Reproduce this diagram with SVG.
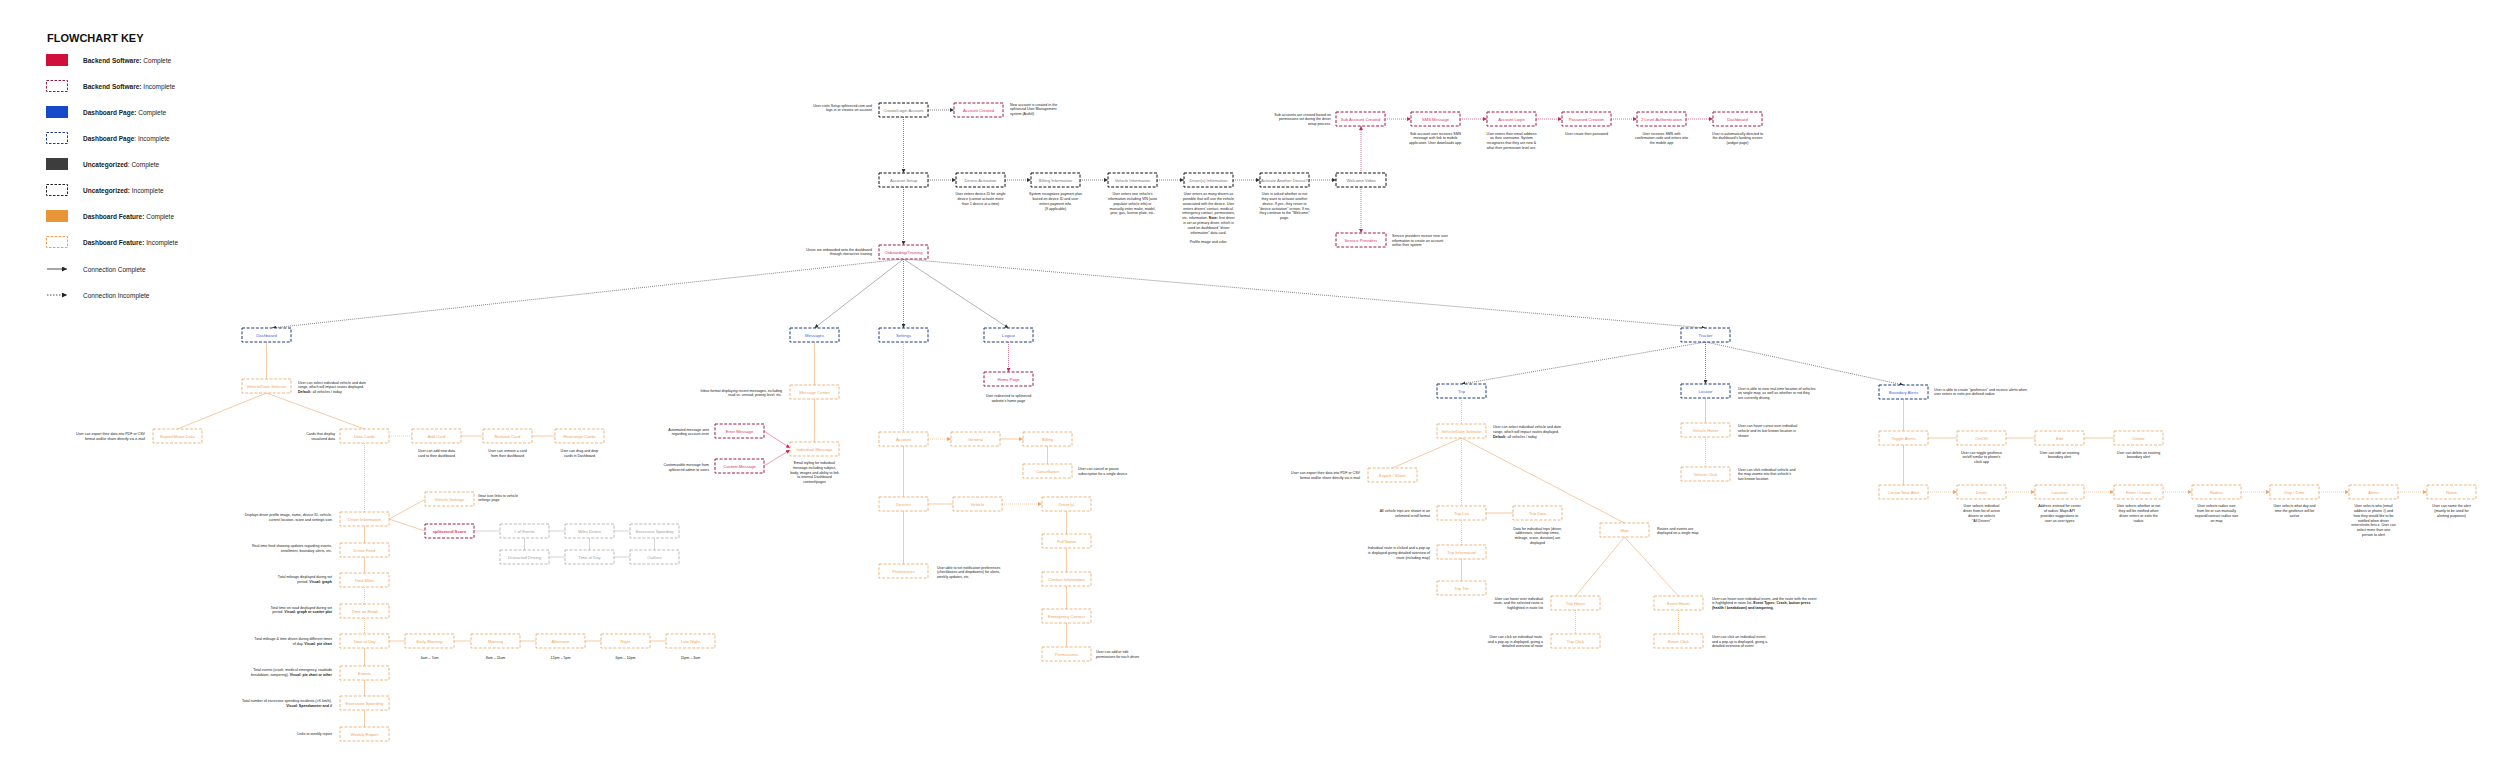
<svg xmlns="http://www.w3.org/2000/svg" width="2500" height="782" viewBox="0 0 2500 782">
<style>
text{font-family:"Liberation Sans",Arial,sans-serif}
.nd rect{fill:#fff;stroke-width:1;stroke-dasharray:3 1.6}
.nd text{font-size:4.2px;text-anchor:middle}
.r rect{stroke:#9a1d4a}.r text{fill:#d8366a}
.b rect{stroke:#1f3b7a}.b text{fill:#3f66d6}
.k rect{stroke:#111}.k text{fill:#777}
.o rect{stroke:#e8a461;stroke-width:0.8}.o text{fill:#f0a55a}
.g rect{stroke:#a8a8a8;stroke-width:0.8}.g text{fill:#a0a0a0}
.d{font-size:3.6px;fill:#222}
.m{text-anchor:middle}.e{text-anchor:end}
.bd{font-weight:bold}
.key{font-size:6.5px;fill:#222}
#conn line,#conn path{fill:none}
.ck{stroke:#333;stroke-width:0.6;stroke-dasharray:1 1}
.cks{stroke:#666;stroke-width:0.5}
.co{stroke:#f0b47c;stroke-width:0.7}
.cod{stroke:#f0b47c;stroke-width:0.7;stroke-dasharray:1 1}
.cr{stroke:#b02457;stroke-width:0.6;stroke-dasharray:1 1}
.crs{stroke:#d8366a;stroke-width:0.5}
.cg{stroke:#bbb;stroke-width:0.6}
</style>
<defs>
<marker id="ak" viewBox="0 0 6 6" refX="6" refY="3" markerWidth="4" markerHeight="4" orient="auto" markerUnits="userSpaceOnUse"><path d="M0,0L6,3L0,6z" fill="#333"/></marker>
<marker id="ao" viewBox="0 0 6 6" refX="6" refY="3" markerWidth="4" markerHeight="4" orient="auto" markerUnits="userSpaceOnUse"><path d="M0,0L6,3L0,6z" fill="#eea56a"/></marker>
<marker id="ar" viewBox="0 0 6 6" refX="6" refY="3" markerWidth="4" markerHeight="4" orient="auto" markerUnits="userSpaceOnUse"><path d="M0,0L6,3L0,6z" fill="#c02a5c"/></marker>
<marker id="akey" viewBox="0 0 6 6" refX="6" refY="3" markerWidth="5" markerHeight="5" orient="auto" markerUnits="userSpaceOnUse"><path d="M0,0L6,3L0,6z" fill="#222"/></marker>
</defs>
<rect width="2500" height="782" fill="#fff"/>

<g id="key">
<text x="47" y="42" style="font-size:11px;font-weight:bold" fill="#111">FLOWCHART KEY</text>
<rect x="46" y="54" width="22" height="12" fill="#d0103a"/>
<text class="key" x="83" y="62.5"><tspan class="bd">Backend Software:</tspan> Complete</text>
<rect x="46.5" y="80.5" width="21" height="11" fill="none" stroke="#8e1e48" stroke-dasharray="2.5 1.5"/>
<text class="key" x="83" y="88.5"><tspan class="bd">Backend Software:</tspan> Incomplete</text>
<rect x="46" y="106" width="22" height="12" fill="#1549c9"/>
<text class="key" x="83" y="114.5"><tspan class="bd">Dashboard Page:</tspan> Complete</text>
<rect x="46.5" y="132.5" width="21" height="11" fill="none" stroke="#1f3d80" stroke-dasharray="2.5 1.5"/>
<text class="key" x="83" y="140.5"><tspan class="bd">Dashboard Page</tspan>: Incomplete</text>
<rect x="46" y="158" width="22" height="12" fill="#3d3d3d"/>
<text class="key" x="83" y="166.5"><tspan class="bd">Uncategorized</tspan>: Complete</text>
<rect x="46.5" y="184.5" width="21" height="11" fill="none" stroke="#222" stroke-dasharray="2.5 1.5"/>
<text class="key" x="83" y="192.5"><tspan class="bd">Uncategorized:</tspan> Incomplete</text>
<rect x="46" y="210" width="22" height="12" fill="#e8953a"/>
<text class="key" x="83" y="218.5"><tspan class="bd">Dashboard Feature:</tspan> Complete</text>
<rect x="46.5" y="236.5" width="21" height="11" fill="none" stroke="#e6a05e" stroke-dasharray="2.5 1.5"/>
<text class="key" x="83" y="244.5"><tspan class="bd">Dashboard Feature:</tspan> Incomplete</text>
<line x1="47" y1="269" x2="67" y2="269" stroke="#222" stroke-width="0.8" marker-end="url(#akey)"/>
<text class="key" x="83" y="271.5">Connection Complete</text>
<line x1="47" y1="295" x2="67" y2="295" stroke="#222" stroke-width="0.8" stroke-dasharray="1.5 1.5" marker-end="url(#akey)"/>
<text class="key" x="83" y="297.5">Connection Incomplete</text>
</g>

<g id="conn">
<line class="ck" x1="928" y1="110" x2="954" y2="110" marker-end="url(#ak)"/>
<line class="ck" x1="903.5" y1="117" x2="903.5" y2="173" marker-end="url(#ak)"/>
<line class="ck" x1="928" y1="180" x2="956" y2="180" marker-end="url(#ak)"/>
<line class="ck" x1="1005" y1="180" x2="1031" y2="180" marker-end="url(#ak)"/>
<line class="ck" x1="1080" y1="180" x2="1108" y2="180" marker-end="url(#ak)"/>
<line class="ck" x1="1157" y1="180" x2="1184" y2="180" marker-end="url(#ak)"/>
<line class="ck" x1="1233" y1="180" x2="1260" y2="180" marker-end="url(#ak)"/>
<line class="ck" x1="1309" y1="180" x2="1336" y2="180" marker-end="url(#ak)"/>
<line class="cr" x1="1361" y1="173" x2="1361" y2="126" marker-end="url(#ar)"/>
<line class="cr" x1="1361" y1="187" x2="1361" y2="233" marker-end="url(#ar)"/>
<line class="cr" x1="1385" y1="119" x2="1411" y2="119" marker-end="url(#ar)"/>
<line class="cr" x1="1460" y1="119" x2="1487" y2="119" marker-end="url(#ar)"/>
<line class="cr" x1="1536" y1="119" x2="1562" y2="119" marker-end="url(#ar)"/>
<line class="cr" x1="1611" y1="119" x2="1637" y2="119" marker-end="url(#ar)"/>
<line class="cr" x1="1686" y1="119" x2="1713" y2="119" marker-end="url(#ar)"/>
<line class="ck" x1="903.5" y1="187" x2="903.5" y2="245" marker-end="url(#ak)"/>
<line class="ck" x1="903.5" y1="259" x2="272" y2="328" marker-end="url(#ak)"/>
<line class="cks" x1="903.5" y1="259" x2="814.5" y2="328" marker-end="url(#ak)"/>
<line class="ck" x1="903.5" y1="259" x2="903.5" y2="328" marker-end="url(#ak)"/>
<line class="cks" x1="903.5" y1="259" x2="1008.5" y2="328" marker-end="url(#ak)"/>
<line class="ck" x1="903.5" y1="259" x2="1705.5" y2="328" marker-end="url(#ak)"/>
<line class="co" x1="266.5" y1="342" x2="266.5" y2="379"/>
<line class="co" x1="266.5" y1="393" x2="177.5" y2="429"/>
<line class="co" x1="266.5" y1="393" x2="364.5" y2="429"/>
<line class="cod" x1="389" y1="436" x2="412" y2="436"/>
<line class="co" x1="461" y1="436" x2="483" y2="436"/>
<line class="co" x1="532" y1="436" x2="555" y2="436"/>
<line class="cod" x1="364.5" y1="443" x2="364.5" y2="512"/>
<line class="co" x1="389" y1="519" x2="425" y2="499.5"/>
<line class="co" x1="389" y1="519" x2="425" y2="531"/>
<line class="cg" x1="474" y1="531" x2="500" y2="531"/>
<line class="cg" x1="549" y1="531" x2="565" y2="531"/>
<line class="cg" x1="614" y1="531" x2="630" y2="531"/>
<line class="cg" x1="524.5" y1="538" x2="524.5" y2="550"/>
<line class="cg" x1="589.5" y1="538" x2="589.5" y2="550"/>
<line class="cg" x1="654.5" y1="538" x2="654.5" y2="550"/>
<line class="cg" x1="549" y1="557" x2="565" y2="557"/>
<line class="cg" x1="614" y1="557" x2="630" y2="557"/>
<line class="co" x1="364.5" y1="526" x2="364.5" y2="543"/>
<line class="co" x1="364.5" y1="557" x2="364.5" y2="573"/>
<line class="cod" x1="364.5" y1="587" x2="364.5" y2="604"/>
<line class="cod" x1="364.5" y1="618" x2="364.5" y2="634"/>
<line class="co" x1="364.5" y1="648" x2="364.5" y2="666"/>
<line class="co" x1="364.5" y1="680" x2="364.5" y2="696"/>
<line class="co" x1="364.5" y1="710" x2="364.5" y2="727"/>
<line class="co" x1="389" y1="641" x2="405" y2="641"/>
<line class="co" x1="454" y1="641" x2="471" y2="641"/>
<line class="co" x1="520" y1="641" x2="536" y2="641"/>
<line class="co" x1="585" y1="641" x2="601" y2="641"/>
<line class="co" x1="650" y1="641" x2="666" y2="641"/>
<line class="co" x1="814.5" y1="342" x2="814.5" y2="385"/>
<line class="co" x1="814.5" y1="399" x2="814.5" y2="442"/>
<line class="crs" x1="764" y1="431" x2="790" y2="448" marker-end="url(#ar)"/>
<line class="crs" x1="764" y1="466" x2="790" y2="450" marker-end="url(#ar)"/>
<line class="cod" x1="903.5" y1="342" x2="903.5" y2="432"/>
<line class="cod" x1="928" y1="439" x2="951" y2="439" marker-end="url(#ao)"/>
<line class="co" x1="1000" y1="439" x2="1023" y2="439" marker-end="url(#ao)"/>
<line class="co" x1="1047.5" y1="446" x2="1047.5" y2="464"/>
<line class="co" x1="903.5" y1="446" x2="903.5" y2="497"/>
<line class="co" x1="928" y1="504" x2="953" y2="504"/>
<line class="cod" x1="1002" y1="504" x2="1042" y2="504" marker-end="url(#ao)"/>
<line class="co" x1="903.5" y1="511" x2="903.5" y2="564"/>
<line class="co" x1="1066.5" y1="511" x2="1066.5" y2="534"/>
<line class="co" x1="1066.5" y1="548" x2="1066.5" y2="572"/>
<line class="co" x1="1066.5" y1="586" x2="1066.5" y2="609"/>
<line class="co" x1="1066.5" y1="623" x2="1066.5" y2="647"/>
<line class="cr" x1="1008.5" y1="342" x2="1008.5" y2="372" marker-end="url(#ar)"/>
<line class="ck" x1="1705.5" y1="342" x2="1461.5" y2="384" marker-end="url(#ak)"/>
<line class="ck" x1="1705.5" y1="342" x2="1705.5" y2="384" marker-end="url(#ak)"/>
<line class="ck" x1="1705.5" y1="342" x2="1903.5" y2="385" marker-end="url(#ak)"/>
<line class="cod" x1="1461.5" y1="398" x2="1461.5" y2="424"/>
<line class="co" x1="1461.5" y1="438" x2="1392.5" y2="468"/>
<line class="cod" x1="1461.5" y1="438" x2="1461.5" y2="506"/>
<line class="co" x1="1461.5" y1="438" x2="1624.5" y2="523"/>
<line class="co" x1="1486" y1="513" x2="1513" y2="513"/>
<line class="cod" x1="1461.5" y1="520" x2="1461.5" y2="545"/>
<line class="co" x1="1461.5" y1="559" x2="1461.5" y2="581"/>
<line class="co" x1="1624.5" y1="537" x2="1575.5" y2="596"/>
<line class="co" x1="1624.5" y1="537" x2="1678.5" y2="596"/>
<line class="cod" x1="1575.5" y1="610" x2="1575.5" y2="634"/>
<line class="cod" x1="1678.5" y1="610" x2="1678.5" y2="634"/>
<line class="co" x1="1705.5" y1="398" x2="1705.5" y2="423"/>
<line class="cod" x1="1705.5" y1="437" x2="1705.5" y2="467"/>
<line class="co" x1="1903.5" y1="399" x2="1903.5" y2="431"/>
<line class="co" x1="1903.5" y1="445" x2="1903.5" y2="485"/>
<line class="co" x1="1928" y1="438" x2="1957" y2="438"/>
<line class="co" x1="2006" y1="438" x2="2035" y2="438"/>
<line class="co" x1="2084" y1="438" x2="2114" y2="438"/>
<line class="cod" x1="1928" y1="492" x2="1957" y2="492" marker-end="url(#ao)"/>
<line class="cod" x1="2006" y1="492" x2="2035" y2="492" marker-end="url(#ao)"/>
<line class="cod" x1="2084" y1="492" x2="2114" y2="492" marker-end="url(#ao)"/>
<line class="cod" x1="2163" y1="492" x2="2192" y2="492" marker-end="url(#ao)"/>
<line class="cod" x1="2241" y1="492" x2="2270" y2="492" marker-end="url(#ao)"/>
<line class="cod" x1="2319" y1="492" x2="2349" y2="492" marker-end="url(#ao)"/>
<line class="cod" x1="2398" y1="492" x2="2427" y2="492" marker-end="url(#ao)"/>
</g>

<g id="n-create" class="nd k"><rect x="879" y="103" width="49" height="14"/><text x="903.5" y="111.5">Create/Login Account</text></g>
<g id="n-acctcreated" class="nd r"><rect x="954" y="103" width="49" height="14"/><text x="978.5" y="111.5">Account Created</text></g>
<g id="n-acctsetup" class="nd k"><rect x="879" y="173" width="49" height="14"/><text x="903.5" y="181.5">Account Setup</text></g>
<g id="n-devact" class="nd k"><rect x="956" y="173" width="49" height="14"/><text x="980.5" y="181.5">Device Activation</text></g>
<g id="n-billinfo" class="nd k"><rect x="1031" y="173" width="49" height="14"/><text x="1055.5" y="181.5">Billing Information</text></g>
<g id="n-vehinfo" class="nd k"><rect x="1108" y="173" width="49" height="14"/><text x="1132.5" y="181.5">Vehicle Information</text></g>
<g id="n-drvinfo" class="nd k"><rect x="1184" y="173" width="49" height="14"/><text x="1208.5" y="181.5">Driver(s) Information</text></g>
<g id="n-activate" class="nd k"><rect x="1260" y="173" width="49" height="14"/><text x="1284.5" y="181.5">Activate Another Device?</text></g>
<g id="n-welcome" class="nd k"><rect x="1336" y="173" width="50" height="14"/><text x="1361" y="181.5">Welcome Video</text></g>
<g id="n-subacct" class="nd r"><rect x="1336" y="112" width="49" height="14"/><text x="1360.5" y="120.5">Sub Account Created</text></g>
<g id="n-sms" class="nd r"><rect x="1411" y="112" width="49" height="14"/><text x="1435.5" y="120.5">SMS Message</text></g>
<g id="n-login" class="nd r"><rect x="1487" y="112" width="49" height="14"/><text x="1511.5" y="120.5">Account Login</text></g>
<g id="n-pwd" class="nd r"><rect x="1562" y="112" width="49" height="14"/><text x="1586.5" y="120.5">Password Creation</text></g>
<g id="n-2fa" class="nd r"><rect x="1637" y="112" width="49" height="14"/><text x="1661.5" y="120.5">2 Level Authentication</text></g>
<g id="n-dash-top" class="nd r"><rect x="1713" y="112" width="49" height="14"/><text x="1737.5" y="120.5">Dashboard</text></g>
<g id="n-service" class="nd r"><rect x="1336" y="233" width="50" height="14"/><text x="1361" y="241.5">Service Providers</text></g>
<g id="n-onboard" class="nd r"><rect x="879" y="245" width="49" height="14"/><text x="903.5" y="253.5">Onboarding/Training</text></g>

<g id="n-dashboard" class="nd b"><rect x="242" y="328" width="49" height="14"/><text x="266.5" y="336.5">Dashboard</text></g>
<g id="n-messages" class="nd b"><rect x="790" y="328" width="49" height="14"/><text x="814.5" y="336.5">Messages</text></g>
<g id="n-settings" class="nd b"><rect x="879" y="328" width="49" height="14"/><text x="903.5" y="336.5">Settings</text></g>
<g id="n-logout" class="nd b"><rect x="984" y="328" width="49" height="14"/><text x="1008.5" y="336.5">Logout</text></g>
<g id="n-tracker" class="nd b"><rect x="1681" y="328" width="49" height="14"/><text x="1705.5" y="336.5">Tracker</text></g>

<g id="n-vds1" class="nd o"><rect x="242" y="379" width="49" height="14"/><text x="266.5" y="387.5">Vehicle/Date Selector</text></g>
<g id="n-export1" class="nd o"><rect x="153" y="429" width="49" height="14"/><text x="177.5" y="437.5">Export/Share Data</text></g>
<g id="n-datacards" class="nd o"><rect x="340" y="429" width="49" height="14"/><text x="364.5" y="437.5">Data Cards</text></g>
<g id="n-addcard" class="nd o"><rect x="412" y="429" width="49" height="14"/><text x="436.5" y="437.5">Add Card</text></g>
<g id="n-removecard" class="nd o"><rect x="483" y="429" width="49" height="14"/><text x="507.5" y="437.5">Remove Card</text></g>
<g id="n-rearrange" class="nd o"><rect x="555" y="429" width="49" height="14"/><text x="579.5" y="437.5">Rearrange Cards</text></g>
<g id="n-driverinfo" class="nd o"><rect x="340" y="512" width="49" height="14"/><text x="364.5" y="520.5">Driver Information</text></g>
<g id="n-vehsettings" class="nd o"><rect x="425" y="492" width="49" height="14"/><text x="449.5" y="500.5">Vehicle Settings</text></g>
<g id="n-score" class="nd r"><rect x="425" y="524" width="49" height="14"/><text x="449.5" y="532.5" font-weight="bold">splitsecnd Score</text></g>
<g id="n-numevents" class="nd g"><rect x="500" y="524" width="49" height="14"/><text x="524.5" y="532.5"># of Events</text></g>
<g id="n-milesdriven" class="nd g"><rect x="565" y="524" width="49" height="14"/><text x="589.5" y="532.5">Miles Driven</text></g>
<g id="n-excspeed-g" class="nd g"><rect x="630" y="524" width="49" height="14"/><text x="654.5" y="532.5">Excessive Speeding</text></g>
<g id="n-distracted" class="nd g"><rect x="500" y="550" width="49" height="14"/><text x="524.5" y="558.5">Distracted Driving</text></g>
<g id="n-tod-g" class="nd g"><rect x="565" y="550" width="49" height="14"/><text x="589.5" y="558.5">Time of Day</text></g>
<g id="n-outliers" class="nd g"><rect x="630" y="550" width="49" height="14"/><text x="654.5" y="558.5">Outliers</text></g>
<g id="n-driverfeed" class="nd o"><rect x="340" y="543" width="49" height="14"/><text x="364.5" y="551.5">Driver Feed</text></g>
<g id="n-totalmiles" class="nd o"><rect x="340" y="573" width="49" height="14"/><text x="364.5" y="581.5">Total Miles</text></g>
<g id="n-timeonroad" class="nd o"><rect x="340" y="604" width="49" height="14"/><text x="364.5" y="612.5">Time on Road</text></g>
<g id="n-timeofday" class="nd o"><rect x="340" y="634" width="49" height="14"/><text x="364.5" y="642.5">Time of Day</text></g>
<g id="n-earlymorning" class="nd o"><rect x="405" y="634" width="49" height="14"/><text x="429.5" y="642.5">Early Morning</text></g>
<g id="n-morning" class="nd o"><rect x="471" y="634" width="49" height="14"/><text x="495.5" y="642.5">Morning</text></g>
<g id="n-afternoon" class="nd o"><rect x="536" y="634" width="49" height="14"/><text x="560.5" y="642.5">Afternoon</text></g>
<g id="n-night" class="nd o"><rect x="601" y="634" width="49" height="14"/><text x="625.5" y="642.5">Night</text></g>
<g id="n-latenight" class="nd o"><rect x="666" y="634" width="49" height="14"/><text x="690.5" y="642.5">Late Night</text></g>
<g id="n-events" class="nd o"><rect x="340" y="666" width="49" height="14"/><text x="364.5" y="674.5">Events</text></g>
<g id="n-excspeed" class="nd o"><rect x="340" y="696" width="49" height="14"/><text x="364.5" y="704.5">Excessive Speeding</text></g>
<g id="n-weekly" class="nd o"><rect x="340" y="727" width="49" height="14"/><text x="364.5" y="735.5">Weekly Report</text></g>

<g id="n-msgcenter" class="nd o"><rect x="790" y="385" width="49" height="14"/><text x="814.5" y="393.5">Message Center</text></g>
<g id="n-errormsg" class="nd r"><rect x="715" y="424" width="49" height="14"/><text x="739.5" y="432.5">Error Message</text></g>
<g id="n-indmsg" class="nd o"><rect x="790" y="442" width="49" height="14"/><text x="814.5" y="450.5">Individual Message</text></g>
<g id="n-custommsg" class="nd r"><rect x="715" y="459" width="49" height="14"/><text x="739.5" y="467.5">Custom Message</text></g>

<g id="n-account" class="nd o"><rect x="879" y="432" width="49" height="14"/><text x="903.5" y="440.5">Account</text></g>
<g id="n-general" class="nd o"><rect x="951" y="432" width="49" height="14"/><text x="975.5" y="440.5">General</text></g>
<g id="n-billing" class="nd o"><rect x="1023" y="432" width="49" height="14"/><text x="1047.5" y="440.5">Billing</text></g>
<g id="n-cancel" class="nd o"><rect x="1023" y="464" width="49" height="14"/><text x="1047.5" y="472.5">Cancellation</text></g>
<g id="n-devices" class="nd o"><rect x="879" y="497" width="49" height="14"/><text x="903.5" y="505.5">Devices</text></g>
<g id="n-vehicle" class="nd o"><rect x="953" y="497" width="49" height="14"/><text x="977.5" y="505.5">Vehicle</text></g>
<g id="n-drivers" class="nd o"><rect x="1042" y="497" width="49" height="14"/><text x="1066.5" y="505.5">Driver(s)</text></g>
<g id="n-fullname" class="nd o"><rect x="1042" y="534" width="49" height="14"/><text x="1066.5" y="542.5">Full Name</text></g>
<g id="n-contact" class="nd o"><rect x="1042" y="572" width="49" height="14"/><text x="1066.5" y="580.5">Contact Information</text></g>
<g id="n-emergency" class="nd o"><rect x="1042" y="609" width="49" height="14"/><text x="1066.5" y="617.5">Emergency Contact</text></g>
<g id="n-permissions" class="nd o"><rect x="1042" y="647" width="49" height="14"/><text x="1066.5" y="655.5">Permissions</text></g>
<g id="n-preferences" class="nd o"><rect x="879" y="564" width="49" height="14"/><text x="903.5" y="572.5">Preferences</text></g>
<g id="n-homepage" class="nd r"><rect x="984" y="372" width="49" height="14"/><text x="1008.5" y="380.5">Home Page</text></g>

<g id="n-trip" class="nd b"><rect x="1437" y="384" width="49" height="14"/><text x="1461.5" y="392.5">Trip</text></g>
<g id="n-vds2" class="nd o"><rect x="1437" y="424" width="49" height="14"/><text x="1461.5" y="432.5">Vehicle/Date Selector</text></g>
<g id="n-export2" class="nd o"><rect x="1368" y="468" width="49" height="14"/><text x="1392.5" y="476.5">Export / Share</text></g>
<g id="n-triplist" class="nd o"><rect x="1437" y="506" width="49" height="14"/><text x="1461.5" y="514.5">Trip List</text></g>
<g id="n-tripdata" class="nd o"><rect x="1513" y="506" width="49" height="14"/><text x="1537.5" y="514.5">Trip Data</text></g>
<g id="n-tripinfo" class="nd o"><rect x="1437" y="545" width="49" height="14"/><text x="1461.5" y="553.5">Trip Information</text></g>
<g id="n-triptile" class="nd o"><rect x="1437" y="581" width="49" height="14"/><text x="1461.5" y="589.5">Trip Tile</text></g>
<g id="n-map" class="nd o"><rect x="1600" y="523" width="49" height="14"/><text x="1624.5" y="531.5">Map</text></g>
<g id="n-triphover" class="nd o"><rect x="1551" y="596" width="49" height="14"/><text x="1575.5" y="604.5">Trip Hover</text></g>
<g id="n-eventhover" class="nd o"><rect x="1654" y="596" width="49" height="14"/><text x="1678.5" y="604.5">Event Hover</text></g>
<g id="n-tripclick" class="nd o"><rect x="1551" y="634" width="49" height="14"/><text x="1575.5" y="642.5">Trip Click</text></g>
<g id="n-eventclick" class="nd o"><rect x="1654" y="634" width="49" height="14"/><text x="1678.5" y="642.5">Event Click</text></g>
<g id="n-locator" class="nd b"><rect x="1681" y="384" width="49" height="14"/><text x="1705.5" y="392.5">Locator</text></g>
<g id="n-vehhover" class="nd o"><rect x="1681" y="423" width="49" height="14"/><text x="1705.5" y="431.5">Vehicle Hover</text></g>
<g id="n-vehclick" class="nd o"><rect x="1681" y="467" width="49" height="14"/><text x="1705.5" y="475.5">Vehicle Click</text></g>
<g id="n-boundary" class="nd b"><rect x="1879" y="385" width="49" height="14"/><text x="1903.5" y="393.5">Boundary Alerts</text></g>
<g id="n-toggle" class="nd o"><rect x="1879" y="431" width="49" height="14"/><text x="1903.5" y="439.5">Toggle Alerts</text></g>
<g id="n-onoff" class="nd o"><rect x="1957" y="431" width="49" height="14"/><text x="1981.5" y="439.5">On/Off</text></g>
<g id="n-edit" class="nd o"><rect x="2035" y="431" width="49" height="14"/><text x="2059.5" y="439.5">Edit</text></g>
<g id="n-delete" class="nd o"><rect x="2114" y="431" width="49" height="14"/><text x="2138.5" y="439.5">Delete</text></g>
<g id="n-createalert" class="nd o"><rect x="1879" y="485" width="49" height="14"/><text x="1903.5" y="493.5">Create New Alert</text></g>
<g id="n-driver" class="nd o"><rect x="1957" y="485" width="49" height="14"/><text x="1981.5" y="493.5">Driver</text></g>
<g id="n-location" class="nd o"><rect x="2035" y="485" width="49" height="14"/><text x="2059.5" y="493.5">Location</text></g>
<g id="n-enterleave" class="nd o"><rect x="2114" y="485" width="49" height="14"/><text x="2138.5" y="493.5">Enter / Leave</text></g>
<g id="n-radius" class="nd o"><rect x="2192" y="485" width="49" height="14"/><text x="2216.5" y="493.5">Radius</text></g>
<g id="n-daytime" class="nd o"><rect x="2270" y="485" width="49" height="14"/><text x="2294.5" y="493.5">Day / Time</text></g>
<g id="n-alerts" class="nd o"><rect x="2349" y="485" width="49" height="14"/><text x="2373.5" y="493.5">Alerts</text></g>
<g id="n-name" class="nd o"><rect x="2427" y="485" width="49" height="14"/><text x="2451.5" y="493.5">Name</text></g>

<g id="notes">
<text class="d e" x="872" y="106.5">User visits Setup.splitsecnd.com and<tspan x="872" dy="4.8">logs in or creates an account</tspan></text>
<text class="d" x="1010" y="105.5">New account is created in the<tspan x="1010" dy="4.8">splitsecnd User Management</tspan><tspan x="1010" dy="4.8">system (Auth0)</tspan></text>
<text class="d m" x="980.5" y="195.2">User enters device ID for single<tspan x="980.5" dy="4.8">device (cannot activate more</tspan><tspan x="980.5" dy="4.8">than 1 device at a time)</tspan></text>
<text class="d m" x="1055.5" y="195.2">System recognizes payment plan<tspan x="1055.5" dy="4.8">based on device ID and user</tspan><tspan x="1055.5" dy="4.8">enters payment info.</tspan><tspan x="1055.5" dy="4.8">(If applicable)</tspan></text>
<text class="d m" x="1132.5" y="195.2">User enters one vehicle's<tspan x="1132.5" dy="4.8">information including VIN (auto</tspan><tspan x="1132.5" dy="4.8">populate vehicle info) or</tspan><tspan x="1132.5" dy="4.8">manually enter make, model,</tspan><tspan x="1132.5" dy="4.8">year, gas, license plate, etc.</tspan></text>
<text class="d m" x="1208.5" y="195.2">User enters as many drivers as<tspan x="1208.5" dy="4.8">possible that will use the vehicle</tspan><tspan x="1208.5" dy="4.8">associated with the device. User</tspan><tspan x="1208.5" dy="4.8">enters drivers' contact, medical,</tspan><tspan x="1208.5" dy="4.8">emergency contact, permissions,</tspan><tspan x="1208.5" dy="4.8">etc. information. <tspan class="bd">Note:</tspan> first driver</tspan><tspan x="1208.5" dy="4.8">is set as primary driver, which is</tspan><tspan x="1208.5" dy="4.8">used on dashboard "driver</tspan><tspan x="1208.5" dy="4.8">information" data card.</tspan><tspan x="1208.5" dy="9.2">Profile image and color.</tspan></text>
<text class="d m" x="1284.5" y="195.2">User is asked whether or not<tspan x="1284.5" dy="4.8">they want to activate another</tspan><tspan x="1284.5" dy="4.8">device. If yes, they return to</tspan><tspan x="1284.5" dy="4.8">"device activation" screen. If no,</tspan><tspan x="1284.5" dy="4.8">they continue to the "Welcome"</tspan><tspan x="1284.5" dy="4.8">page.</tspan></text>
<text class="d e" x="1331" y="115.5">Sub accounts are created based on<tspan x="1331" dy="4.8">permissions set during the driver</tspan><tspan x="1331" dy="4.8">setup process.</tspan></text>
<text class="d m" x="1435.5" y="134.5">Sub account user receives SMS<tspan x="1435.5" dy="4.8">message with link to mobile</tspan><tspan x="1435.5" dy="4.8">application. User downloads app.</tspan></text>
<text class="d m" x="1511.5" y="134.5">User enters their email address<tspan x="1511.5" dy="4.8">as their username. System</tspan><tspan x="1511.5" dy="4.8">recognizes that they are new &amp;</tspan><tspan x="1511.5" dy="4.8">what their permission level are.</tspan></text>
<text class="d m" x="1586.5" y="134.5">User create their password</text>
<text class="d m" x="1661.5" y="134.5">User receives SMS with<tspan x="1661.5" dy="4.8">confirmation code and enters into</tspan><tspan x="1661.5" dy="4.8">the mobile app</tspan></text>
<text class="d m" x="1737.5" y="134.5">User is automatically directed to<tspan x="1737.5" dy="4.8">the dashboard's landing screen</tspan><tspan x="1737.5" dy="4.8">(widget page)</tspan></text>
<text class="d" x="1392" y="236.8">Service providers receive new user<tspan x="1392" dy="4.8">information to create an account</tspan><tspan x="1392" dy="4.8">within their system</tspan></text>
<text class="d e" x="872" y="250.5">Users are onboarded onto the dashboard<tspan x="872" dy="4.8">through interactive training</tspan></text>

<text class="d" x="298" y="383.5">User can select individual vehicle and date<tspan x="298" dy="4.7">range, which will impact routes displayed.</tspan><tspan x="298" dy="4.7"><tspan class="bd">Default:</tspan> all vehicles / today</tspan></text>
<text class="d e" x="145" y="435.2">User can export their data into PDF or CSV<tspan x="145" dy="4.7">format and/or share directly via e-mail</tspan></text>
<text class="d e" x="335" y="435.2">Cards that display<tspan x="335" dy="4.7">visualized data</tspan></text>
<text class="d m" x="436.5" y="452.2">User can add new data<tspan x="436.5" dy="4.8">card to their dashboard</tspan></text>
<text class="d m" x="507.5" y="452.2">User can remove a card<tspan x="507.5" dy="4.8">from their dashboard</tspan></text>
<text class="d m" x="579.5" y="452.2">User can drag and drop<tspan x="579.5" dy="4.8">cards in Dashboard</tspan></text>
<text class="d" x="478" y="496.5">Gear icon links to vehicle<tspan x="478" dy="4.8">settings page</tspan></text>
<text class="d e" x="332" y="515.9">Displays driver profile image, name, device ID, vehicle,<tspan x="332" dy="4.8">current location, score and settings icon</tspan></text>
<text class="d e" x="332" y="546.9">Real-time feed showing updates regarding events,<tspan x="332" dy="4.8">enrollment, boundary alerts, etc.</tspan></text>
<text class="d e" x="332" y="577.9">Total mileage displayed during set<tspan x="332" dy="4.8">period. <tspan class="bd">Visual: graph</tspan></tspan></text>
<text class="d e" x="332" y="608.5">Total time on road displayed during set<tspan x="332" dy="4.8">period. <tspan class="bd">Visual: graph or scatter plot</tspan></tspan></text>
<text class="d e" x="332" y="639.9">Total mileage &amp; time driven during different times<tspan x="332" dy="4.8">of day. <tspan class="bd">Visual: pie chart</tspan></tspan></text>
<text class="d e" x="332" y="670.9">Total events (crash, medical emergency, roadside<tspan x="332" dy="4.8">breakdown, tampering). <tspan class="bd">Visual: pie chart or other</tspan></tspan></text>
<text class="d e" x="332" y="701.9">Total number of excessive speeding incidents (&gt;X km/h).<tspan x="332" dy="4.8" class="bd">Visual: Speedometer and #</tspan></text>
<text class="d e" x="332" y="735.2">Links to weekly report</text>
<text class="d m" x="429.5" y="659.3">4am – 7am</text>
<text class="d m" x="495.5" y="659.3">8am – 11am</text>
<text class="d m" x="560.5" y="659.3">12pm – 5pm</text>
<text class="d m" x="625.5" y="659.3">6pm – 10pm</text>
<text class="d m" x="690.5" y="659.3">11pm – 3am</text>

<text class="d e" x="782" y="391.5">Inbox format displaying recent messages, including<tspan x="782" dy="4.7">read vs. unread, priority level, etc.</tspan></text>
<text class="d e" x="709" y="430.5">Automated message sent<tspan x="709" dy="4.7">regarding account error</tspan></text>
<text class="d e" x="709" y="465.9">Customizable message from<tspan x="709" dy="4.7">splitsecnd admin to users</tspan></text>
<text class="d m" x="814.5" y="463.9">Email styling for individual<tspan x="814.5" dy="4.8">message including subject,</tspan><tspan x="814.5" dy="4.8">body, images and ability to link</tspan><tspan x="814.5" dy="4.8">to internal Dashboard</tspan><tspan x="814.5" dy="4.8">content/pages</tspan></text>
<text class="d m" x="1008.5" y="396.9">User redirected to splitsecnd<tspan x="1008.5" dy="4.7">website's home page</tspan></text>
<text class="d" x="1078" y="469.9">User can cancel or pause<tspan x="1078" dy="4.8">subscription for a single device</tspan></text>
<text class="d" x="937" y="568.5">User able to set notification preferences<tspan x="937" dy="4.7">(checkboxes and dropdowns) for alerts,</tspan><tspan x="937" dy="4.7">weekly updates, etc.</tspan></text>
<text class="d" x="1096" y="652.9">User can add or edit<tspan x="1096" dy="4.7">permissions for each driver</tspan></text>

<text class="d" x="1738" y="389.5">User is able to view real-time location of vehicles<tspan x="1738" dy="4.8">on single map, as well as whether or not they</tspan><tspan x="1738" dy="4.8">are currently driving</tspan></text>
<text class="d" x="1738" y="426.9">User can hover cursor over individual<tspan x="1738" dy="4.8">vehicle and its last known location is</tspan><tspan x="1738" dy="4.8">shown</tspan></text>
<text class="d" x="1738" y="470.5">User can click individual vehicle and<tspan x="1738" dy="4.7">the map zooms into that vehicle's</tspan><tspan x="1738" dy="4.7">last known location</tspan></text>
<text class="d" x="1493" y="427.9">User can select individual vehicle and date<tspan x="1493" dy="4.8">range, which will impact routes displayed.</tspan><tspan x="1493" dy="4.8"><tspan class="bd">Default:</tspan> all vehicles / today</tspan></text>
<text class="d e" x="1360" y="473.9">User can export their data into PDF or CSV<tspan x="1360" dy="4.8">format and/or share directly via e-mail</tspan></text>
<text class="d e" x="1430" y="512.2">All vehicle trips are shown in an<tspan x="1430" dy="4.7">unlimited scroll format</tspan></text>
<text class="d m" x="1537.5" y="529.5">Data for individual trips (driver,<tspan x="1537.5" dy="4.8">addresses, start/stop times,</tspan><tspan x="1537.5" dy="4.8">mileage, score, duration) are</tspan><tspan x="1537.5" dy="4.8">displayed</tspan></text>
<text class="d e" x="1430" y="548.9">Individual route is clicked and a pop-up<tspan x="1430" dy="4.8">is displayed giving detailed overview of</tspan><tspan x="1430" dy="4.8">route (including map)</tspan></text>
<text class="d" x="1657" y="529.5">Routes and events are<tspan x="1657" dy="4.7">displayed on a single map</tspan></text>
<text class="d e" x="1543" y="599.5">User can hover over individual<tspan x="1543" dy="4.8">route, and the selected route is</tspan><tspan x="1543" dy="4.8">highlighted in route list</tspan></text>
<text class="d" x="1712" y="599.5">User can hover over individual event, and the route with the event<tspan x="1712" dy="4.8">is highlighted in route list. <tspan class="bd">Event Types: Crash, button press</tspan></tspan><tspan x="1712" dy="4.8" class="bd">(health / breakdown) and tampering.</tspan></text>
<text class="d e" x="1543" y="637.9">User can click an individual route,<tspan x="1543" dy="4.7">and a pop-up is displayed, giving a</tspan><tspan x="1543" dy="4.7">detailed overview of route</tspan></text>
<text class="d" x="1712" y="637.9">User can click an individual event,<tspan x="1712" dy="4.7">and a pop-up is displayed, giving a</tspan><tspan x="1712" dy="4.7">detailed overview of event</tspan></text>

<text class="d" x="1934" y="390.5">User is able to create "geofences" and receive alerts when<tspan x="1934" dy="4.7">user enters or exits pre-defined radius</tspan></text>
<text class="d m" x="1981.5" y="453.5">User can toggle geofence<tspan x="1981.5" dy="4.8">on/off similar to phone's</tspan><tspan x="1981.5" dy="4.8">clock app</tspan></text>
<text class="d m" x="2059.5" y="453.5">User can edit an existing<tspan x="2059.5" dy="4.8">boundary alert</tspan></text>
<text class="d m" x="2138.5" y="453.5">User can delete an existing<tspan x="2138.5" dy="4.8">boundary alert</tspan></text>
<text class="d m" x="1981.5" y="507.2">User selects individual<tspan x="1981.5" dy="4.8">driver from list of active</tspan><tspan x="1981.5" dy="4.8">drivers or selects</tspan><tspan x="1981.5" dy="4.8">"All Drivers"</tspan></text>
<text class="d m" x="2059.5" y="507.2">Address entered for center<tspan x="2059.5" dy="4.8">of radius. Maps API</tspan><tspan x="2059.5" dy="4.8">provides suggestions to</tspan><tspan x="2059.5" dy="4.8">user as user types</tspan></text>
<text class="d m" x="2138.5" y="507.2">User selects whether or not<tspan x="2138.5" dy="4.8">they will be notified when</tspan><tspan x="2138.5" dy="4.8">driver enters or exits the</tspan><tspan x="2138.5" dy="4.8">radius</tspan></text>
<text class="d m" x="2216.5" y="507.2">User selects radius size<tspan x="2216.5" dy="4.8">from list or can manually</tspan><tspan x="2216.5" dy="4.8">expand/contract radius size</tspan><tspan x="2216.5" dy="4.8">on map</tspan></text>
<text class="d m" x="2294.5" y="507.2">User selects what day and<tspan x="2294.5" dy="4.8">time the geofence will be</tspan><tspan x="2294.5" dy="4.8">active</tspan></text>
<text class="d m" x="2373.5" y="507.2">User selects who (email<tspan x="2373.5" dy="4.8">address or phone #) and</tspan><tspan x="2373.5" dy="4.8">how they would like to be</tspan><tspan x="2373.5" dy="4.8">notified when driver</tspan><tspan x="2373.5" dy="4.8">enters/exits fence. User can</tspan><tspan x="2373.5" dy="4.8">select more than one</tspan><tspan x="2373.5" dy="4.8">person to alert</tspan></text>
<text class="d m" x="2451.5" y="507.2">User can name the alert<tspan x="2451.5" dy="4.8">(mainly to be used for</tspan><tspan x="2451.5" dy="4.8">alerting purposes)</tspan></text>
</g>
</svg>
